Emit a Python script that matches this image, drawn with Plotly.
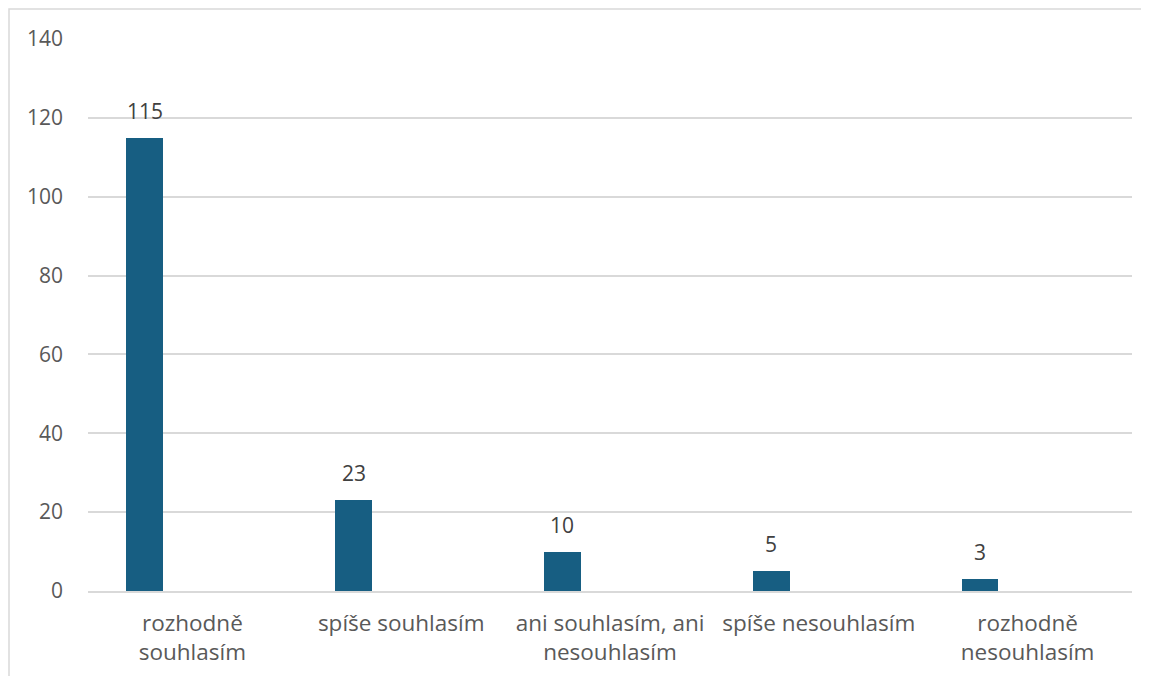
import plotly.graph_objects as go

categories = ["rozhodně<br>souhlasím", "spíše souhlasím", "ani souhlasím, ani<br>nesouhlasím",
              "spíše nesouhlasím", "rozhodně<br>nesouhlasím"]
values = [115, 23, 10, 5, 3]
y_ticks = [0, 20, 40, 60, 80, 100, 120, 140]

BAR_COLOR = "#175E82"
TEXT_COLOR = "#595959"
GRID_COLOR = "#D9D9D9"
FONT = "Open Sans, sans-serif"
FS = 21
FS_X = 22.5

PAGE_OFF = 8  # default body margin of the html page
W, H = 1149, 676
ML, MR, MT, MB = 88 - PAGE_OFF, 17 + PAGE_OFF, 39 - PAGE_OFF, 85 + PAGE_OFF
plot_w = W - ML - MR
plot_h = H - MT - MB
cat_px = plot_w / len(categories)
offset = -0.316
width = 0.176

fig = go.Figure()
fig.add_trace(go.Bar(
    x=categories, y=values,
    marker=dict(color=BAR_COLOR, line=dict(width=0)),
    offset=offset, width=width,
    hoverinfo="x+y",
))

for c, v in zip(categories, values):
    fig.add_annotation(
        x=c, y=v, xref="x", yref="y",
        text=str(v), showarrow=False,
        xshift=(offset + width / 2) * cat_px,
        yanchor="bottom", yshift=11,
        font=dict(family=FONT, size=FS, color="#404040"),
    )

# outer chart border (left/top visible, right/bottom off-page)
bx0 = 9 - PAGE_OFF
by0 = 9 - PAGE_OFF
fig.add_shape(
    type="rect", xref="paper", yref="paper",
    x0=(bx0 - ML) / plot_w, x1=(W + 10 - ML) / plot_w,
    y0=-(H + 10 - (H - MB)) / plot_h, y1=((H - MB) - by0) / plot_h,
    line=dict(color=GRID_COLOR, width=1.5), fillcolor="rgba(0,0,0,0)", layer="below",
)

fig.update_layout(
    width=W, height=H,
    margin=dict(l=ML, r=MR, t=MT, b=MB, autoexpand=False),
    paper_bgcolor="white", plot_bgcolor="white",
    showlegend=False,
    font=dict(family=FONT, size=FS, color=TEXT_COLOR),
    bargap=0,
)
fig.update_xaxes(
    type="category", showgrid=False, showline=True, linecolor=GRID_COLOR, linewidth=1.5,
    ticks="", tickfont=dict(family=FONT, size=FS_X, color=TEXT_COLOR), ticklabelstandoff=11,
)
fig.update_yaxes(
    range=[0, 140], tickvals=y_ticks, showgrid=True, gridcolor=GRID_COLOR, gridwidth=1.5,
    zeroline=False, showline=False, ticks="", ticklabelstandoff=24,
    tickfont=dict(family=FONT, size=FS, color=TEXT_COLOR),
)

fig.write_html("out.html")
